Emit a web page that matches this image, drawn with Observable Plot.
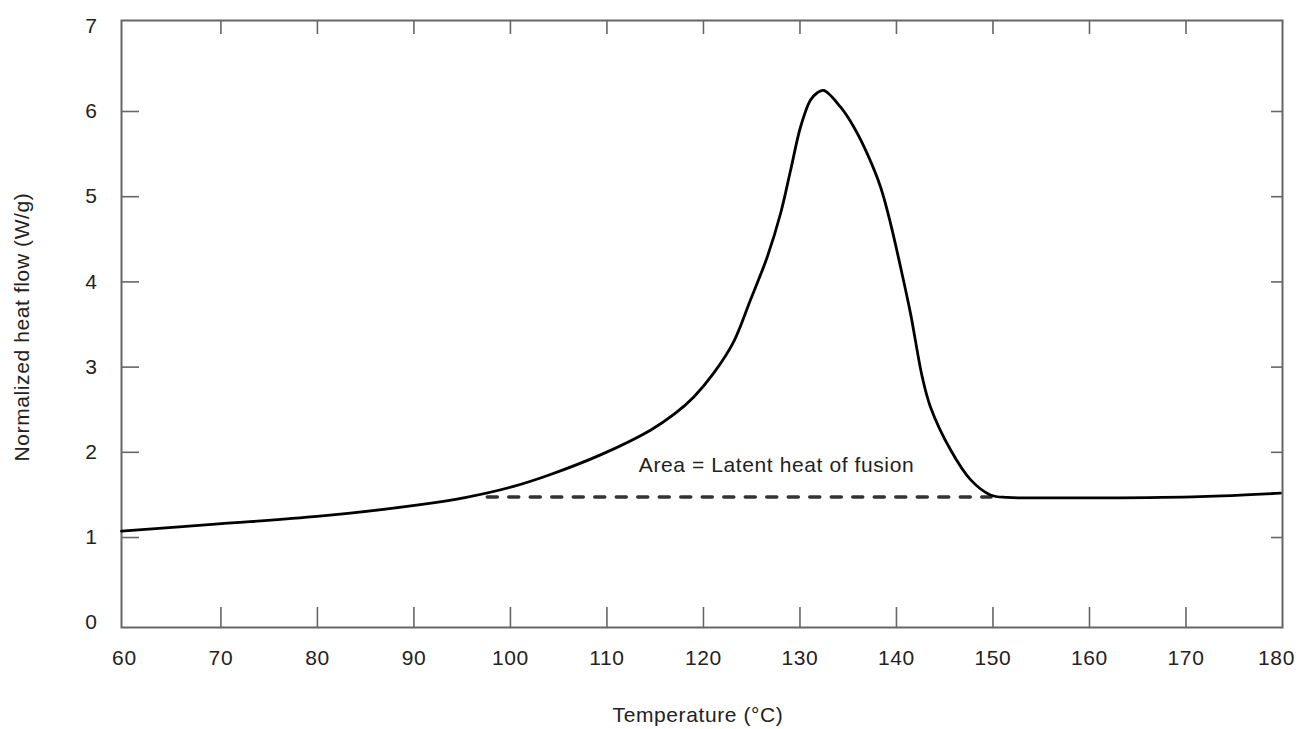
<!DOCTYPE html>
<html><head><meta charset="utf-8">
<script src="https://cdn.jsdelivr.net/npm/d3@7"></script>
<script src="https://cdn.jsdelivr.net/npm/@observablehq/plot@0.6"></script>
<style>html,body{margin:0;padding:0;background:#fff}#chart svg{display:block}</style>
</head><body><div id="chart"></div>
<script>
// DSC melting curve
const temperature = [59.7, 69.75, 80.22, 90.27, 95.55, 100.32, 104.15, 109.33, 114.51, 117, 119, 121, 123.14, 124.87, 126.61, 127.99, 129.03, 130.06, 131.08, 131.8, 132.47, 134.2, 135.58, 136.97, 138.35, 139.39, 140.42, 141.46, 142.67, 143.53, 145.6, 147.67, 149.74, 151.5, 153.89, 161.14, 171.5, 179.79];
const heatFlow = [1.076, 1.16, 1.25, 1.38, 1.475, 1.6, 1.74, 1.97, 2.26, 2.45, 2.65, 2.92, 3.3, 3.788, 4.293, 4.803, 5.31, 5.818, 6.131, 6.22, 6.248, 6.053, 5.818, 5.505, 5.114, 4.685, 4.176, 3.628, 2.885, 2.53, 2.03, 1.68, 1.5, 1.47, 1.465, 1.465, 1.48, 1.52];
const baselineTemperature = [97.6, 149.8];
const baselineHeatFlow = [1.475, 1.475];
const xTicks = [60, 70, 80, 90, 100, 110, 120, 130, 140, 150, 160, 170, 180];
const yTicks = [0, 1, 2, 3, 4, 5, 6, 7];
const annotationText = "Area = Latent heat of fusion";
const annotationT = 113.3;
const annotationV = 1.85;
const xLabel = "Temperature (°C)";
const yLabel = "Normalized heat flow (W/g)";

const curve = temperature.map((t, i) => ({t, v: heatFlow[i]}));
const baseline = baselineTemperature.map((t, i) => ({t, v: baselineHeatFlow[i]}));
const innerX = xTicks.slice(1, -1);
const innerY = yTicks.slice(1, -1);
const font = "'Liberation Sans', Arial, Helvetica, sans-serif";
const axisGray = "#666";

const chart = Plot.plot({
  width: 1299,
  height: 729,
  marginLeft: 121,
  marginRight: 17,
  marginTop: 20,
  marginBottom: 102,
  style: {fontFamily: font, fontSize: "21px", letterSpacing: "0.6px", background: "#fff", color: "#222"},
  x: {domain: [59.7, 180]},
  y: {domain: [-0.056, 7.068]},
  marks: [
    // tick labels
    Plot.axisX({ticks: xTicks.slice(0, -1), tickSize: 0, tickPadding: 23, label: null, fontSize: 21, fill: "#222"}),
    Plot.axisX({ticks: xTicks.slice(-1), tickSize: 0, tickPadding: 23, dx: -6, label: null, fontSize: 21, fill: "#222", style: "letter-spacing:0"}),
    Plot.axisY({ticks: yTicks, tickSize: 0, tickPadding: 24, label: null, fontSize: 21, fill: "#222"}),
    // inward ticks on all four sides
    Plot.axisX({anchor: "bottom", ticks: innerX, tickSize: -20, tickFormat: () => "", label: null, stroke: axisGray, strokeWidth: 1.6}),
    Plot.axisX({anchor: "top", ticks: innerX, tickSize: -13, tickFormat: () => "", label: null, stroke: axisGray, strokeWidth: 1.6}),
    Plot.axisY({anchor: "left", ticks: innerY, tickSize: -18, tickFormat: () => "", label: null, stroke: axisGray, strokeWidth: 1.6}),
    Plot.axisY({anchor: "right", ticks: innerY, tickSize: -12, tickFormat: () => "", label: null, stroke: axisGray, strokeWidth: 1.6}),
    Plot.frame({stroke: axisGray, strokeWidth: 2}),
    // axis titles
    Plot.text([xLabel], {frameAnchor: "bottom", dy: 88, dx: -4, textAnchor: "middle", lineAnchor: "middle", fontSize: 21, fill: "#222"}),
    Plot.text([yLabel], {frameAnchor: "left", dx: -99, dy: 3, rotate: -90, textAnchor: "middle", lineAnchor: "middle", fontSize: 21, fill: "#222"}),
    // baseline
    Plot.line(baseline, {x: "t", y: "v", stroke: "#333", strokeWidth: 3.5, strokeDasharray: "10,11.5"}),
    // curve
    Plot.line(curve, {x: "t", y: "v", stroke: "#000", strokeWidth: 2.8, curve: "catmull-rom"}),
    // annotation
    Plot.text([{t: annotationT, v: annotationV, label: annotationText}], {x: "t", y: "v", text: "label", textAnchor: "start", fontSize: 21, fill: "#222"})
  ]
});
document.getElementById("chart").appendChild(chart);
</script>
</body></html>
